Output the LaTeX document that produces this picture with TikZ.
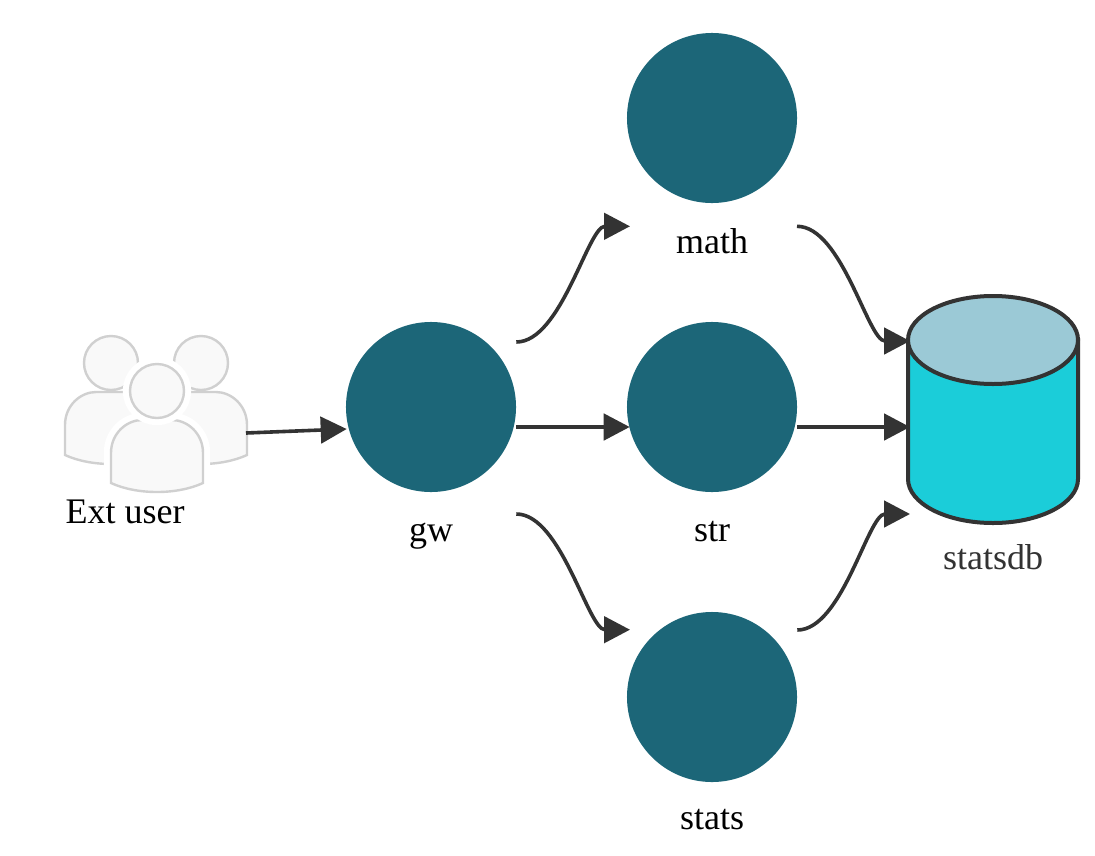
\documentclass[tikz,border=0pt]{standalone}
\usepackage{fontspec}
\setmainfont{Liberation Serif}
\usepackage{tikz}
\usetikzlibrary{arrows.meta,positioning}
\definecolor{svcteal}{RGB}{28,102,120}
\definecolor{dbbody}{RGB}{27,205,217}
\definecolor{dbtop}{RGB}{155,201,214}
\definecolor{linkdark}{RGB}{51,51,51}
\definecolor{userline}{RGB}{208,208,208}
\definecolor{userfill}{RGB}{249,249,249}
\tikzset{
  personplain/.style={},
  personhalo/.style={preaction={draw=white,line width=.36cm}},
  person/.pic={
    \path[draw=userline,fill=userfill,line width=.06cm,#1] (-46,92) -- (-46,62) .. controls (-46,42) and (-30,29) .. (-15,29) -- (15,29) .. controls (30,29) and (46,42) .. (46,62) -- (46,92) .. controls (20,104) and (-20,104) .. cycle;
    \path[draw=userline,fill=userfill,line width=.06cm,#1] (0,0) circle (27);
  },
  dbcan/.pic={
    \path[draw=linkdark,fill=dbbody,line width=.1cm] (-85,-68) -- (-85,71) arc[start angle=180,end angle=0,x radius=85,y radius=44] -- (85,-68) -- cycle;
    \path[draw=linkdark,fill=dbtop,line width=.1cm] (0,-68) ellipse [x radius=85,y radius=44];
  }
}

\begin{document}
\begin{tikzpicture}[x=.025cm,y=-.025cm,>={Triangle[length=.65cm,width=.66cm]},
    every node/.style={align=center,font=\fontsize{25.6}{30}\selectfont},
    svc/.style={circle,fill=svcteal,minimum size=4.25cm,inner sep=0pt},
    link/.style={->,draw=linkdark,line width=.09cm}]
  \useasboundingbox[fill=white] (0,0) rectangle (1095,855);

  \pic at (111,363) {person=personplain};
  \pic at (201,363) {person=personplain};
  \pic at (157,391) {person=personhalo};
  \coordinate (userout) at (246,433);
  \node (extuser) at (125,512) {Ext user};

  \node[svc] (gw) at (431,407) {};
  \node[svc] (math) at (712,118) {};
  \node[svc] (str) at (712,407) {};
  \node[svc] (stats) at (712,697) {};
  \node[below=.65cm of gw] (gwlabel) {gw};
  \node[below=.5cm of math] (mathlabel) {math};
  \node[below=.6cm of str] (strlabel) {str};
  \node[below=.55cm of stats] (statslabel) {stats};

  \node[minimum width=4.25cm,minimum height=5.65cm,inner sep=0pt] (db) at (993,408) {};
  \pic at (db.center) {dbcan};
  \node[below=.45cm of db,text=linkdark] (dblabel) {statsdb};

  \draw[link] (userout) -- ([shift={(1,22)}]gw.west);
  \draw[link] ([shift={(0,-65)}]gw.east) .. controls +(45,0) and +(-42,0) .. ([shift={(-82,23)}]math.south);
  \draw[link] ([shift={(0,20)}]gw.east) -- ([shift={(3,20)}]str.west);
  \draw[link] ([shift={(0,107)}]gw.east) .. controls +(45,0) and +(-42,0) .. ([shift={(-82,18)}]stats.north);
  \draw[link] ([shift={(85,23)}]math.south) .. controls +(45,0) and +(-42,0) .. ([shift={(-83,-67)}]db.center);
  \draw[link] ([shift={(0,20)}]str.east) -- ([shift={(-83,19)}]db.center);
  \draw[link] ([shift={(0,-67)}]stats.east) .. controls +(45,0) and +(-42,0) .. ([shift={(-83,106)}]db.center);
\end{tikzpicture}
\end{document}
